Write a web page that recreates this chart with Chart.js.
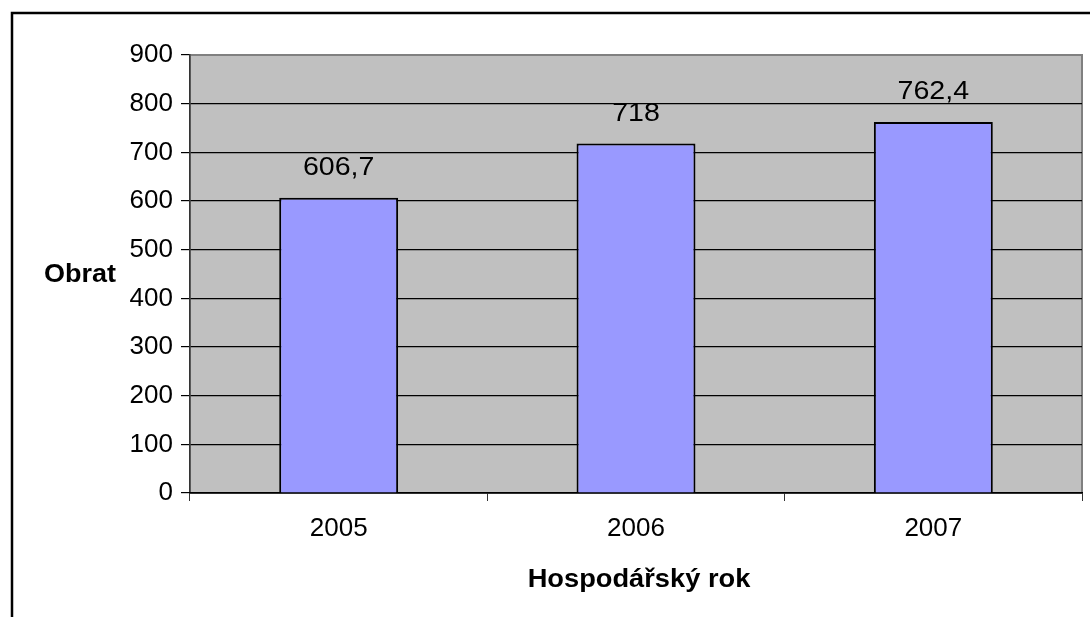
<!DOCTYPE html>
<html>
<head>
<meta charset="utf-8">
<script src="https://cdn.jsdelivr.net/npm/chart.js@4/dist/chart.umd.min.js"></script>
<style>
  html, body { margin: 0; padding: 0; background: #fff; }
  #wrap { position: relative; width: 1090px; height: 617px; }
</style>
</head>
<body>
<div id="wrap"><canvas id="chart" width="1090" height="617"></canvas></div>
<script>
// data
const years = ['2005', '2006', '2007'];
const obrat = [606.7, 718, 762.4];
const yTitle = 'Obrat';
const xTitle = 'Hospodářský rok';

const FONT = "'Liberation Sans', Arial, sans-serif";

// text in the original is a bit wider than the font, so stretch it horizontally
function wideText(ctx, txt, x, y, sx) {
  ctx.save();
  ctx.translate(x, y);
  ctx.scale(sx, 1);
  ctx.fillText(txt, 0, 0);
  ctx.restore();
}

// frame + plot background
const framePlugin = {
  id: 'frame',
  beforeDraw(chart) {
    const { ctx, chartArea: a } = chart;
    ctx.save();
    ctx.fillStyle = '#fff';
    ctx.fillRect(0, 0, chart.width, chart.height);
    // outer chart border (only top/left visible)
    ctx.strokeStyle = '#000';
    ctx.lineWidth = 2.5;
    ctx.beginPath();
    ctx.moveTo(12, 617);
    ctx.lineTo(12, 13);
    ctx.lineTo(1090, 13);
    ctx.stroke();
    // gray plot area
    ctx.fillStyle = '#c0c0c0';
    ctx.fillRect(a.left, a.top, a.right - a.left, a.bottom - a.top);
    ctx.strokeStyle = '#808080';
    ctx.lineWidth = 2;
    ctx.strokeRect(a.left, a.top, a.right - a.left, a.bottom - a.top);
    ctx.restore();
  },
  afterDraw(chart) {
    const { ctx } = chart;
    ctx.save();
    ctx.fillStyle = '#000';
    ctx.font = 'bold 25px ' + FONT;
    ctx.textBaseline = 'middle';
    ctx.textAlign = 'left';
    wideText(ctx, yTitle, 44, 275, 1.08);
    ctx.textAlign = 'center';
    wideText(ctx, xTitle, 639, 580, 1.09);
    ctx.restore();
  }
};

// value labels above the bars
const labelPlugin = {
  id: 'valueLabels',
  afterDatasetsDraw(chart) {
    const { ctx } = chart;
    const meta = chart.getDatasetMeta(0);
    ctx.save();
    ctx.fillStyle = '#000';
    ctx.font = '26px ' + FONT;
    ctx.textAlign = 'center';
    ctx.textBaseline = 'middle';
    meta.data.forEach((bar, i) => {
      const txt = String(obrat[i]).replace('.', ',');
      wideText(ctx, txt, bar.x, bar.y - 30, 1.1);
    });
    ctx.restore();
  }
};

new Chart(document.getElementById('chart'), {
  type: 'bar',
  data: {
    labels: years,
    datasets: [{
      data: obrat,
      backgroundColor: '#9999ff',
      borderColor: '#000',
      borderWidth: 2,
      borderSkipped: 'bottom',
      categoryPercentage: 1,
      barPercentage: 0.4
    }]
  },
  options: {
    responsive: false,
    animation: false,
    devicePixelRatio: 1,
    layout: { padding: { left: 0, top: 55, right: 8, bottom: 0 } },
    plugins: { legend: { display: false }, tooltip: { enabled: false } },
    scales: {
      y: {
        min: 0, max: 900,
        ticks: { stepSize: 100, color: '#000', font: { family: FONT, size: 26 }, padding: 8 },
        grid: {
          color: c => c.tick && c.tick.value === 900 ? '#808080' : '#000',
          lineWidth: 1.2,
          tickColor: '#000',
          tickLength: 9
        },
        border: { color: '#333', width: 1.5 },
        afterFit(s) { s.width = 190; }
      },
      x: {
        offset: true,
        ticks: { color: '#000', font: { family: FONT, size: 26 }, padding: 12 },
        grid: {
          offset: true,
          drawOnChartArea: false,
          color: '#333',
          tickLength: 8
        },
        border: { color: '#000', width: 1.5 },
        afterFit(s) { s.height = 124; }
      }
    }
  },
  plugins: [framePlugin, labelPlugin]
});
</script>
</body>
</html>
